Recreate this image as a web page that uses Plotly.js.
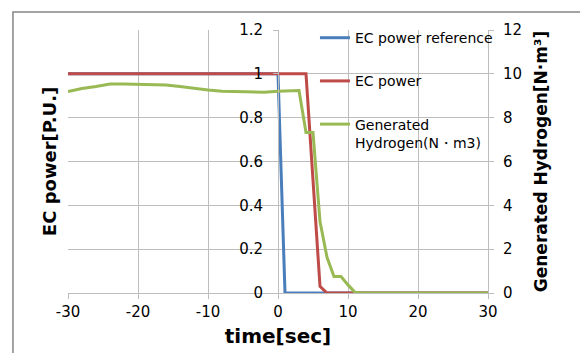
<!DOCTYPE html>
<html>
<head>
<meta charset="utf-8">
<script src="https://cdn.plot.ly/plotly-3.0.1.min.js"></script>
<style>html,body{margin:0;padding:0;background:#fff;}#chart{width:580px;height:353px;}</style>
</head>
<body>
<div id="chart"></div>
<script>
// EC power reference [P.U.]
const refTime = [-30, 0, 1, 30];
const refPower = [1, 1, 0, 0];
// EC power [P.U.]
const ecTime = [-30, 4, 6, 7, 30];
const ecPower = [1, 1, 0.03, 0, 0];
// Generated hydrogen [N·m3]
const h2Time = [-30, -28, -26, -24, -22, -20, -18, -16, -14, -12, -10, -8, -6, -4, -2, 0, 1, 2, 3, 4, 5, 6, 7, 8, 9, 10, 11, 12, 30];
const h2Value = [9.19, 9.33, 9.42, 9.54, 9.54, 9.53, 9.52, 9.49, 9.42, 9.33, 9.26, 9.21, 9.19, 9.16, 9.16, 9.21, 9.22, 9.23, 9.24, 7.32, 7.32, 3.26, 1.63, 0.75, 0.75, 0.37, 0.03, 0, 0];

const xTicks = [-30, -20, -10, 0, 10, 20, 30];
const xTickText = ['-30', '-20', '-10', '0', '10', '20', '30'];
const powerTicks = [0, 0.2, 0.4, 0.6, 0.8, 1, 1.2];
const powerTickText = ['0', '0.2', '0.4', '0.6', '0.8', '1', '1.2'];
const h2Ticks = [0, 2, 4, 6, 8, 10, 12];

const FONT = 'DejaVu Sans, sans-serif';
const GRID = '#bdbdbd';

const traces = [
  {x: refTime, y: refPower, name: 'EC power reference', mode: 'lines', type: 'scatter',
   line: {color: '#4a7ebb', width: 3}, legendgroup: 'a', yaxis: 'y'},
  {x: ecTime, y: ecPower, name: 'EC power', mode: 'lines', type: 'scatter',
   line: {color: '#be4b48', width: 3}, legendgroup: 'b', yaxis: 'y'},
  {x: h2Time, y: h2Value, name: 'Generated<br>Hydrogen(N・m3)', mode: 'lines', type: 'scatter',
   line: {color: '#98b954', width: 3}, legendgroup: 'c', yaxis: 'y2'}
];

const layout = {
  width: 580, height: 353,
  margin: {l: 68, r: 92, t: 30, b: 60, pad: 0},
  paper_bgcolor: '#fff', plot_bgcolor: '#fff',
  font: {family: FONT, size: 15, color: '#000'},
  showlegend: true,
  legend: {x: 0.588, y: 1.03, xanchor: 'left', yanchor: 'top', bgcolor: 'rgba(0,0,0,0)',
           font: {family: FONT, size: 14, color: '#000'}, traceorder: 'grouped', tracegroupgap: 22,
           valign: 'top'},
  xaxis: {range: [-30, 30], tickvals: xTicks, ticktext: xTickText, showgrid: true, gridcolor: GRID, gridwidth: 1,
          zeroline: false, showline: true, linecolor: GRID, linewidth: 1,
          ticks: 'outside', ticklen: 5, tickcolor: GRID, tickfont: {size: 15},
          title: {text: 'time[sec]', font: {family: FONT, size: 20, color: '#000', weight: 'bold'}, standoff: 8}},
  yaxis: {range: [0, 1.2], tickvals: powerTicks, ticktext: powerTickText, anchor: 'free', position: 0.5,
          showgrid: true, gridcolor: GRID, gridwidth: 1, zeroline: false, showline: true,
          linecolor: GRID, ticks: 'outside', ticklen: 5, tickcolor: GRID, tickfont: {size: 15},
          ticklabelstandoff: 7},
  yaxis2: {range: [0, 12], tickvals: h2Ticks, overlaying: 'y', side: 'right', showgrid: false,
           zeroline: false, showline: true, linecolor: GRID, ticks: 'outside', ticklen: 5, tickcolor: GRID,
           tickfont: {size: 15}, ticklabelstandoff: 6,
           title: {text: 'Generated Hydrogen[N·m³]', font: {family: FONT, size: 17, color: '#000', weight: 'bold'}, standoff: 14}},
  annotations: [
    {text: 'EC power[P.U.]', xref: 'paper', yref: 'paper', x: -0.045, y: 0.498, textangle: -90,
     showarrow: false, xanchor: 'center', yanchor: 'middle',
     font: {family: FONT, size: 18, color: '#000', weight: 'bold'}}
  ],
  shapes: [
    {type: 'rect', xref: 'paper', yref: 'paper', x0: -0.131, x1: 1.6, y0: -0.6, y1: 1.068,
     line: {color: '#868686', width: 1.5}, fillcolor: 'rgba(0,0,0,0)', layer: 'below'}
  ]
};

Plotly.newPlot('chart', traces, layout, {displayModeBar: false, staticPlot: true});
</script>
</body>
</html>
